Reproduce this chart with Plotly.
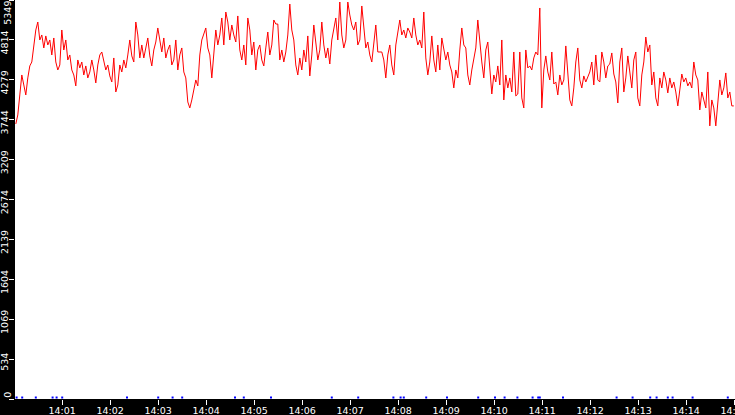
import pandas as pd
import plotly.graph_objects as go

# red series, one reading every 2.5 s from 14:00:02
red_values = [
    3687, 3808, 4076, 4344, 4210, 4076, 4304, 4465, 4518, 4746, 4947, 5054, 4813, 4880, 4706, 4867,
    4746, 4813, 4612, 4840, 4518, 4411, 4478, 4947, 4679, 4813, 4545, 4612, 4411, 4344, 4197, 4545,
    4438, 4518, 4344, 4465, 4304, 4384, 4545, 4411, 4237, 4478, 4612, 4652, 4545, 4411, 4478, 4331,
    4250, 4572, 4116, 4210, 4478, 4384, 4545, 4438, 4612, 4813, 4599, 4518, 5054, 4880, 4572, 4746,
    4572, 4706, 4840, 4599, 4465, 4679, 4786, 4974, 4813, 4652, 4840, 4572, 4679, 4746, 4478, 4545,
    4813, 4411, 4612, 4706, 4384, 4304, 3982, 3902, 4009, 4170, 4277, 4197, 4612, 4813, 4880, 4974,
    4706, 4612, 4304, 4679, 4947, 4746, 4880, 5108, 4746, 5188, 5054, 4813, 5014, 4880, 4786, 5135,
    4679, 4545, 4746, 4478, 5108, 4947, 4612, 4786, 4411, 4679, 4746, 4545, 4465, 4706, 4920, 4612,
    4746, 5081, 5027, 5027, 4545, 4679, 4518, 4652, 4880, 5295, 4947, 4813, 4478, 4344, 4572, 4411,
    4679, 4518, 4867, 4331, 4612, 5014, 4813, 4545, 4679, 5054, 4746, 4572, 4706, 4491, 4813, 4974,
    5108, 4813, 5322, 4880, 4706, 4813, 5322, 5148, 5014, 4947, 5054, 4746, 4813, 5269, 4947, 4706,
    4786, 4612, 4518, 4813, 5014, 4652, 4652, 4652, 4545, 4304, 4612, 4746, 4478, 4344, 4746, 4947,
    5081, 4880, 4947, 4840, 4974, 4920, 4840, 5108, 4880, 4746, 4813, 4706, 5188, 4572, 4344, 4518,
    4867, 4545, 4384, 4746, 4411, 4840, 4706, 4545, 4652, 4478, 4384, 4170, 4411, 4304, 4679, 4974,
    4746, 4706, 4344, 4210, 4411, 4545, 4706, 5081, 4746, 4518, 4304, 4679, 4786, 4411, 4089, 4344,
    4250, 4465, 4210, 4813, 4009, 4344, 4170, 4304, 4116, 4652, 4063, 4089, 4652, 4036, 3902, 4679,
    4438, 4465, 4411, 4572, 4652, 4612, 5242, 3902, 4411, 4599, 4384, 4277, 4652, 4223, 4250, 4076,
    4344, 4210, 4277, 4733, 4411, 4009, 3929, 4170, 4518, 4706, 4277, 4170, 4331, 4250, 4317, 4384,
    4518, 4210, 4612, 4277, 4250, 4652, 4518, 4304, 4465, 4491, 4639, 4357, 4250, 3969, 4518, 4706,
    4116, 4304, 4599, 4344, 4170, 4545, 4652, 4036, 3929, 4344, 4518, 4853, 4652, 4746, 4210, 4384,
    4036, 3929, 4304, 4170, 4384, 4277, 4103, 4304, 4170, 4250, 4116, 3929, 4170, 4357, 4250, 4304,
    4197, 4250, 4170, 4518, 4344, 4277, 3875, 4116, 4009, 3902, 4384, 3661, 4009, 3902, 3661, 3955,
    4277, 4076, 4170, 4371, 4036, 4116, 3929, 3929,
]
red_times = pd.date_range("2024-01-01 14:00:02", periods=len(red_values), freq="2500ms")

# blue series, sparse small readings near zero (seconds after 14:00)
blue_seconds = [3, 10, 27, 48, 53, 60, 141, 180, 198, 210, 276, 287, 321, 397, 430, 474, 483, 487,
                515, 541, 580, 601, 613, 629, 648, 655, 657, 686, 753, 773, 795, 803, 817, 823, 848, 892]
blue_values = [20] * len(blue_seconds)
blue_times = pd.Timestamp("2024-01-01 14:00:00") + pd.to_timedelta(blue_seconds, unit="s")

y_ticks = [0, 534, 1069, 1604, 2139, 2674, 3209, 3744, 4279, 4814, 5349]

fig = go.Figure()
fig.add_trace(go.Scatter(x=red_times, y=red_values, mode="lines",
                         line=dict(color="#ff0000", width=1)))
fig.add_trace(go.Scatter(x=blue_times, y=blue_values, mode="markers",
                         marker=dict(color="#0000ff", size=2, symbol="square", line_width=0)))

fig.update_layout(
    width=735, height=415,
    margin=dict(l=15, r=0, t=0, b=16, pad=0),
    paper_bgcolor="black",
    plot_bgcolor="white",
    showlegend=False,
    font=dict(family="DejaVu Sans", size=9.5, color="white"),
)
fig.update_xaxes(
    type="date", automargin=False,
    range=["2024-01-01 14:00:01", "2024-01-01 14:15:01"],
    dtick=60000, tick0="2024-01-01 14:00:00", tickformat="%H:%M",
    ticks="outside", ticklen=5, tickcolor="white", tickwidth=1,
    showgrid=False, zeroline=False, showline=False,
    ticklabeloverflow="allow", ticklabelstandoff=-2,
)
# end labels are kept inside the plot height, the rest sit just below their tick
inner_text = ["" if v in (y_ticks[0], y_ticks[-1]) else str(v) for v in y_ticks]
fig.update_yaxes(
    range=[y_ticks[0], y_ticks[-1]], automargin=False,
    tickvals=y_ticks, ticktext=inner_text,
    tickangle=-90, ticks="outside", ticklen=5, tickcolor="white", tickwidth=1,
    showgrid=False, zeroline=False, showline=False,
    ticklabeloverflow="allow", ticklabelshift=4, ticklabelstandoff=-3,
)
for v, ypos, anchor in [(y_ticks[-1], 1, "top"), (y_ticks[0], 0, "bottom")]:
    fig.add_annotation(text=str(v), textangle=-90, xref="paper", yref="paper",
                       x=-0.0115, y=ypos, xanchor="center", yanchor=anchor,
                       showarrow=False, borderpad=0,
                       font=dict(family="DejaVu Sans", size=9.5, color="white"))

fig.write_html("out.html", config={"displayModeBar": False},
               post_script="document.body.style.margin='0';")
